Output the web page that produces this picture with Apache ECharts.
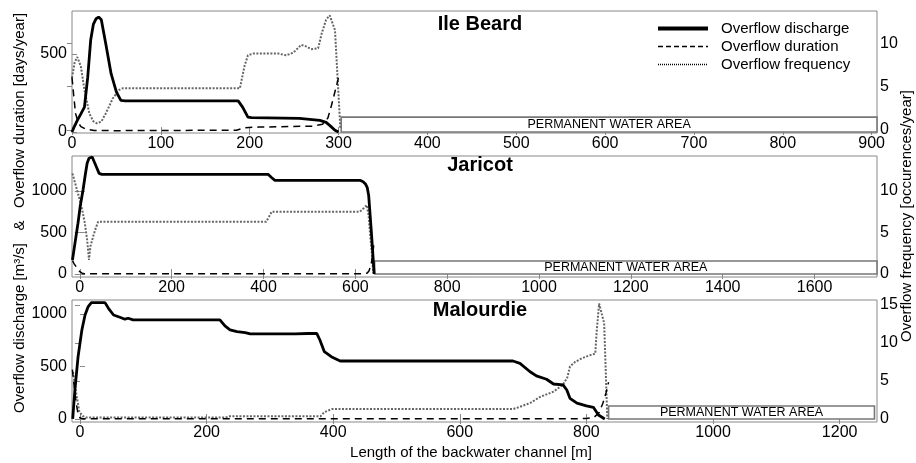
<!DOCTYPE html>
<html><head><meta charset="utf-8">
<script src="https://cdn.jsdelivr.net/npm/echarts@6/dist/echarts.min.js"></script>
<style>html,body{margin:0;padding:0;background:#fff}#c{width:916px;height:463px}</style>
</head><body><div id="c"></div>
<script>
// ---------------- DATA ----------------
const seriesNames = ['Overflow discharge', 'Overflow duration', 'Overflow frequency'];
const panelTitles = ['Ile Beard', 'Jaricot', 'Malourdie'];
const rectLabel = 'PERMANENT WATER AREA';

// x tick labels (m)
const ileXTicks = [0, 100, 200, 300, 400, 500, 600, 700, 800, 900];
const jarXTicks = [0, 200, 400, 600, 800, 1000, 1200, 1400, 1600];
const malXTicks = [0, 200, 400, 600, 800, 1000, 1200];
// left tick labels (m3/s & days/year), right tick labels (occurences/year)
const ileLeftTicks = [0, 500];
const jarLeftTicks = [0, 500, 1000];
const malLeftTicks = [0, 500, 1000];
const ileRightTicks = [0, 5, 10];
const jarRightTicks = [0, 5, 10];
const malRightTicks = [0, 5, 10, 15];

// Ile Beard  [length m, value]
const ileDischarge = [[0,0],[3,40],[6,75],[10,117],[14,160],[17.7,352],[21,588],[24,690],[27,726],[30,737],[33,720],[38,566],[44,374],[50,256],[55,203],[60,200],[187,200],[192,160],[198,96],[202,92],[256,88],[279,75],[286,62],[290,43],[296,11],[300,0]];
const ileDuration = [[0,350],[2,230],[4,120],[7,60],[10,35],[15,20],[25,10],[50,9],[185,12],[195,28],[210,32],[270,38],[282,50],[288,90],[292,170],[296,260],[300,350]];
const ileFrequency = [[0,6.0],[3,7.8],[6,8.4],[10,7.3],[14,4.6],[19.5,1.9],[24,1.0],[28,0.77],[33,0.96],[38,1.9],[46,3.65],[53,4.6],[57,4.8],[189,4.8],[194,7.3],[198,8.6],[204,8.8],[232,8.8],[241,8.6],[249,8.9],[258,9.8],[264,9.6],[269,9.3],[277,9.4],[281,11.1],[286,12.7],[290,13.2],[292,13.1],[296,11.5],[299,5.8],[302,0.2]];
const ileWater = [303, 906, 0, 96];

// Jaricot
const jarDischarge = [[-16,169],[-10,390],[-4,611],[1,820],[7,1012],[12,1200],[16,1334],[20,1395],[23,1413],[27,1410],[30,1394],[36,1293],[42,1213],[48,1201],[410,1201],[418,1160],[425,1129],[610,1129],[617,1112],[622,1085],[626,1040],[629,950],[635,500],[641,0]];
const jarDuration = [[-16,160],[-12,120],[-8,88],[-4,55],[0,28],[5,10],[10,3],[620,3],[626,12],[630,40],[634,110],[637,200],[640,345]];
const jarFrequency = [[-16,12.1],[-8,10.5],[0,8.9],[6,7.5],[11,6.1],[16,4.1],[20,1.7],[23,3.3],[29,4.5],[34,5.4],[40,6.3],[406,6.3],[412,6.9],[418,7.5],[610,7.5],[618,7.9],[625,8.3],[629,7.0],[632,4.9],[636,2.5],[639,0.1]];
const jarWater = [642, 1736, 0, 157];

// Malourdie
const malDischarge = [[-11.5,0],[-8,276],[-3,593],[3,848],[8,990],[13,1070],[18,1108],[39.5,1108],[45,1054],[53,990],[63,969],[71,950],[76,959],[84,943],[221,943],[229,886],[237,848],[248,831],[261,822],[269,810],[340,810],[360,814],[374,816],[379,752],[386,641],[397,593],[411,552],[684,552],[695,530],[711,450],[721,410],[737,378],[748,333],[763,324],[769,276],[774,197],[785,150],[800,124],[811,111],[819,38],[829,0]];
const malDuration = [[-12,470],[-9,300],[-6,150],[-3,50],[0,10],[5,2],[780,2],[800,5],[812,15],[820,60],[826,150],[831,250],[835,350]];
const malFrequency = [[-11,6.2],[-8,4.5],[-5,2.9],[-1,0.96],[4,0.4],[10,0.2],[230,0.2],[236,0.35],[380,0.35],[386,0.9],[398,1.3],[684,1.3],[695,1.6],[711,2.1],[727,2.9],[748,3.6],[763,4.5],[770,5.5],[774,6.9],[782,7.5],[793,8.0],[806,8.4],[814,8.6],[816,11.3],[820,15.2],[823,15.4],[828,12.6],[831,5],[833,0]];
const malWater = [835, 1255, 0, 124];

// ---------------- LAYOUT ----------------
const FONT = "'Liberation Sans', Arial, Helvetica, sans-serif";
const AX = '#888';
const panels = [
  {top: 11, height: 122, xr: [0, 906], xt: ileXTicks, yl: [-6, 776], ylt: ileLeftTicks, yr: [-0.35, 13.7], yrt: ileRightTicks,
   dis: ileDischarge, dur: ileDuration, freq: ileFrequency, water: ileWater, ty: 24},
  {top: 156, height: 121, xr: [-17, 1736], xt: jarXTicks, yl: [-36, 1422], ylt: jarLeftTicks, yr: [-0.36, 14.2], yrt: jarRightTicks,
   dis: jarDischarge, dur: jarDuration, freq: jarFrequency, water: jarWater, ty: 165},
  {top: 300, height: 122, xr: [-12.6, 1259], xt: malXTicks, yl: [-29, 1133], ylt: malLeftTicks, yr: [-0.4, 15.66], yrt: malRightTicks,
   dis: malDischarge, dur: malDuration, freq: malFrequency, water: malWater, ty: 310}
];

const fmt = v => String(v);
const grid = [], xAxis = [], yAxis = [], series = [], graphic = [];
const tickStyle = {show: true, inside: true, length: 5, lineStyle: {color: AX}};
panels.forEach((p, i) => {
  grid.push({left: 72, right: 39, top: p.top, height: p.height, show: true, borderColor: AX, borderWidth: 1, backgroundColor: 'transparent'});
  xAxis.push({type: 'value', gridIndex: i, min: p.xr[0], max: p.xr[1], position: 'bottom',
    axisLine: {show: false}, splitLine: {show: false},
    axisTick: Object.assign({customValues: p.xt}, tickStyle),
    axisLabel: {customValues: p.xt, formatter: fmt, color: '#000', fontSize: 16, fontFamily: FONT, margin: 3}});
  xAxis.push({type: 'value', gridIndex: i, min: p.xr[0], max: p.xr[1], position: 'top',
    axisLine: {show: false}, splitLine: {show: false},
    axisTick: Object.assign({customValues: p.xt}, tickStyle), axisLabel: {show: false}});
  yAxis.push({type: 'value', gridIndex: i, min: p.yl[0], max: p.yl[1], position: 'left',
    axisLine: {show: false}, splitLine: {show: false},
    axisTick: Object.assign({customValues: p.ylt}, tickStyle),
    axisLabel: {customValues: p.ylt, formatter: fmt, color: '#000', fontSize: 16, fontFamily: FONT, margin: 5}});
  yAxis.push({type: 'value', gridIndex: i, min: p.yr[0], max: p.yr[1], position: 'right',
    axisLine: {show: false}, splitLine: {show: false},
    axisTick: Object.assign({customValues: p.yrt}, tickStyle),
    axisLabel: {customValues: p.yrt, formatter: fmt, color: '#000', fontSize: 16, fontFamily: FONT, margin: 3}});
  const w = p.water;
  series.push({name: seriesNames[2], type: 'line', xAxisIndex: 2*i, yAxisIndex: 2*i+1, data: p.freq,
    symbol: 'none', color: '#666', z: 2, lineStyle: {color: '#666', width: 2, type: [2, 1.5]}});
  series.push({name: seriesNames[1], type: 'line', xAxisIndex: 2*i, yAxisIndex: 2*i, data: p.dur,
    symbol: 'none', color: '#000', z: 3, lineStyle: {color: '#000', width: 1.5, type: [7, 5]}});
  series.push({name: seriesNames[0], type: 'line', xAxisIndex: 2*i, yAxisIndex: 2*i, data: p.dis,
    symbol: 'none', color: '#000', z: 4, lineStyle: {color: '#000', width: 2.8},
    markArea: {silent: true,
      itemStyle: {color: '#fff', borderColor: '#777', borderWidth: 1.6},
      label: {show: true, position: 'inside', color: '#000', fontSize: 12.5, fontFamily: FONT},
      data: [[{name: rectLabel, xAxis: w[0], yAxis: w[2]}, {xAxis: w[1], yAxis: w[3]}]]}});
  graphic.push({type: 'text', x: 480, y: p.ty, z: 10,
    style: {text: panelTitles[i], font: 'bold 20px ' + FONT, fill: '#000', textAlign: 'center', textVerticalAlign: 'middle'}});
});

graphic.push({type: 'text', x: 20, y: 213, rotation: Math.PI / 2, z: 10,
  style: {text: 'Overflow discharge [m\u00B3/s]   &   Overflow duration [days/year]', font: '15px ' + FONT, fill: '#000', textAlign: 'center', textVerticalAlign: 'middle'}});
graphic.push({type: 'text', x: 907, y: 216, rotation: Math.PI / 2, z: 10,
  style: {text: 'Overflow frequency [occurences/year]', font: '15px ' + FONT, fill: '#000', textAlign: 'center', textVerticalAlign: 'middle'}});
graphic.push({type: 'text', x: 471, y: 453, z: 10,
  style: {text: 'Length of the backwater channel [m]', font: '15px ' + FONT, fill: '#000', textAlign: 'center', textVerticalAlign: 'middle'}});

const hiddenSym = {color: 'rgba(0,0,0,0)', borderWidth: 0, opacity: 0};
const chart = echarts.init(document.getElementById('c'), null, {renderer: 'canvas'});
chart.setOption({
  animation: false,
  backgroundColor: '#fff',
  grid, xAxis, yAxis, series, graphic,
  legend: {orient: 'vertical', left: 651, top: 16, itemWidth: 50, itemHeight: 14, itemGap: 3,
    textStyle: {fontSize: 15, fontFamily: FONT, color: '#000', padding: [0, 0, 0, 8]},
    data: [
      {name: seriesNames[0], itemStyle: hiddenSym, lineStyle: {color: '#000', width: 4, type: 'solid'}},
      {name: seriesNames[1], itemStyle: hiddenSym, lineStyle: {color: '#000', width: 1.3, type: [5, 3]}},
      {name: seriesNames[2], itemStyle: hiddenSym, lineStyle: {color: '#000', width: 1.3, type: [1, 1]}}
    ]}
});
</script></body></html>
